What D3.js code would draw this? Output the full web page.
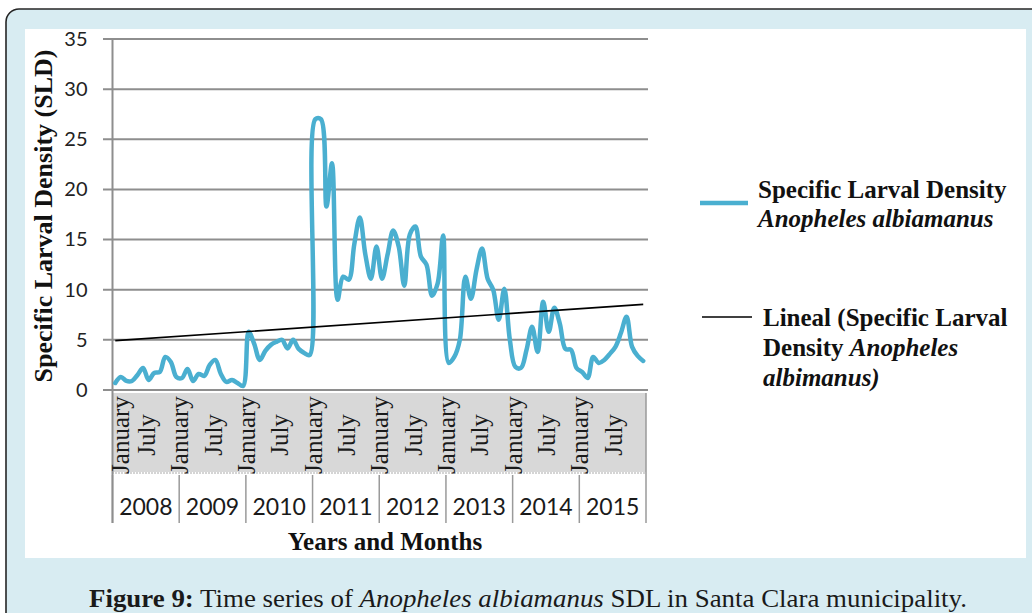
<!DOCTYPE html>
<html>
<head>
<meta charset="utf-8">
<script src="https://cdn.jsdelivr.net/npm/d3@7/dist/d3.min.js"></script>
<style>
  body { margin: 0; background: #ffffff; }
  svg { display: block; }
</style>
</head>
<body>
<svg id="chart" width="1032" height="613"></svg>
<script>
// ---- data -----------------------------------------------------------
const years = ["2008", "2009", "2010", "2011", "2012", "2013", "2014", "2015"];
const monthLabels = ["January", "July"];
const monthLabelOffsets = [0, 6];           // month index within each year
const yTicks = [0, 5, 10, 15, 20, 25, 30, 35];

// Monthly specific larval density, January 2008 .. December 2015
const sld2008 = [0.7, 1.3, 0.9, 0.9, 1.5, 2.2, 1.0, 1.7, 1.8, 3.3, 2.8, 1.3];
const sld2009 = [1.2, 2.1, 0.9, 1.6, 1.4, 2.5, 3.0, 1.6, 0.8, 1.0, 0.7, 0.4];
const sld2010 = [5.8, 4.6, 3.0, 3.9, 4.5, 4.8, 5.0, 4.15, 5.0, 4.1, 3.7, 3.5];
const sld2011 = [27.0, 27.0, 18.3, 22.6, 9.0, 11.3, 11.0, 14.5, 17.2, 13.5, 11.1, 14.3];
const sld2012 = [11.1, 13.5, 15.9, 14.3, 10.4, 15.5, 16.3, 13.3, 12.5, 9.4, 10.6, 15.4];
const sld2013 = [2.7, 3.3, 5.0, 11.3, 9.1, 12.0, 14.1, 11.1, 10.0, 7.0, 10.1, 5.0];
const sld2014 = [2.3, 2.2, 4.0, 6.3, 3.8, 8.8, 5.8, 8.2, 6.6, 4.1, 4.0, 2.2];
const sld2015 = [1.8, 1.2, 3.3, 2.7, 3.0, 3.6, 4.3, 5.7, 7.3, 4.3, 3.4, 2.9];
const sld = [].concat(sld2008, sld2009, sld2010, sld2011, sld2012, sld2013, sld2014, sld2015);

// ---- layout ---------------------------------------------------------
const svg = d3.select("#chart");
const plotLeft = 112.5, plotRight = 646, plotTop = 39, plotBottom = 390;
const blue = "#4aafd0";
const serif = "'Liberation Serif', 'Times New Roman', serif";
const sans = "Lato, 'Open Sans', sans-serif";

// framed panel and white chart area
svg.append("rect").attr("x", 6).attr("y", 9).attr("width", 1050).attr("height", 640)
  .attr("rx", 13).attr("fill", "#d8ecf2").attr("stroke", "#262626").attr("stroke-width", 1.6);
svg.append("rect").attr("x", 25).attr("y", 29).attr("width", 1001).attr("height", 529)
  .attr("fill", "#ffffff");

// ---- scales ---------------------------------------------------------
const x = d3.scaleBand().domain(d3.range(sld.length)).range([plotLeft, plotRight]).padding(0);
const xc = i => x(i) + x.bandwidth() / 2;
const y = d3.scaleLinear().domain([0, 35]).range([plotBottom, plotTop]);

// ---- gridlines + value axis ----------------------------------------
svg.append("g").selectAll("line").data(yTicks).join("line")
  .attr("x1", 103).attr("x2", 648)
  .attr("y1", d => y(d)).attr("y2", d => y(d))
  .attr("stroke", "#8e8e8e").attr("stroke-width", 2);

const yAxis = svg.append("g").attr("transform", `translate(${plotLeft},0)`)
  .call(d3.axisLeft(y).tickValues(yTicks).tickSize(0).tickPadding(25).tickFormat(d3.format("d")));
yAxis.select(".domain").remove();
yAxis.selectAll("text").attr("font-family", sans).attr("font-size", 20).attr("fill", "#222");

// category band below the plot
const bandTop = 393, bandBottom = 472, rowBottom = 523;
svg.append("rect").attr("x", plotLeft).attr("y", bandTop).attr("width", plotRight - plotLeft)
  .attr("height", bandBottom - bandTop).attr("fill", "#d8d8d8");
svg.append("line").attr("x1", plotLeft).attr("x2", plotRight).attr("y1", bandBottom + 1).attr("y2", bandBottom + 1)
  .attr("stroke", "#555").attr("stroke-width", 1).attr("stroke-dasharray", "1,2");

// year dividers
const yearEdges = d3.range(years.length + 1).map(k => k < years.length ? x(k * 12) : plotRight);
svg.append("g").selectAll("line").data(yearEdges).join("line")
  .attr("x1", d => d).attr("x2", d => d)
  .attr("y1", (d, k) => (k === years.length ? bandTop : bandBottom + 3))
  .attr("y2", rowBottom)
  .attr("stroke", "#9a9a9a").attr("stroke-width", 1.5);

// vertical axis line
svg.append("line").attr("x1", plotLeft).attr("x2", plotLeft).attr("y1", plotTop).attr("y2", rowBottom)
  .attr("stroke", "#8e8e8e").attr("stroke-width", 2);

// month labels (rotated)
const monthData = [];
years.forEach((yr, k) => monthLabels.forEach((m, j) => monthData.push({ k, j, label: m, i: k * 12 + monthLabelOffsets[j] })));
svg.append("g").selectAll("text").data(monthData).join("text")
  .attr("transform", d => {
    let bx = x(d.i) + 9;
    bx = Math.max(bx, plotLeft + 16);
    return `translate(${bx},435) rotate(-90)`;
  })
  .attr("text-anchor", "middle")
  .attr("font-family", serif).attr("font-size", 25).attr("fill", "#1a1a1a")
  .text(d => d.label);

// year labels
svg.append("g").selectAll("text").data(years).join("text")
  .attr("x", (d, k) => (yearEdges[k] + yearEdges[k + 1]) / 2)
  .attr("y", 515)
  .attr("text-anchor", "middle")
  .attr("font-family", sans).attr("font-size", 23).attr("fill", "#1a1a1a")
  .text(d => d);

// axis titles
svg.append("text").attr("x", 385).attr("y", 550).attr("text-anchor", "middle")
  .attr("font-family", serif).attr("font-weight", "bold").attr("font-size", 25).attr("fill", "#111")
  .text("Years and Months");
svg.append("text").attr("transform", "translate(52,216) rotate(-90)").attr("text-anchor", "middle")
  .attr("font-family", serif).attr("font-weight", "bold").attr("font-size", 26).attr("fill", "#111")
  .text("Specific Larval Density (SLD)");

// ---- series ---------------------------------------------------------
const line = d3.line().x((d, i) => xc(i)).y(d => y(d)).curve(d3.curveCatmullRom.alpha(0.5));
svg.append("path").datum(sld).attr("d", line)
  .attr("fill", "none").attr("stroke", blue).attr("stroke-width", 4.5)
  .attr("stroke-linejoin", "round").attr("stroke-linecap", "round");

// least-squares linear trend
const n = sld.length;
const mx = d3.mean(d3.range(n)), my = d3.mean(sld);
const slope = d3.sum(sld, (v, i) => (i - mx) * (v - my)) / d3.sum(d3.range(n), i => (i - mx) ** 2);
const intercept = my - slope * mx;
svg.append("line")
  .attr("x1", xc(0)).attr("y1", y(intercept))
  .attr("x2", xc(n - 1)).attr("y2", y(intercept + slope * (n - 1)))
  .attr("stroke", "#000").attr("stroke-width", 1.6);

// ---- legend ---------------------------------------------------------
const lg = svg.append("g").attr("font-family", serif).attr("font-size", 25).attr("font-weight", "bold").attr("fill", "#111");
lg.append("line").attr("x1", 700).attr("x2", 748).attr("y1", 203).attr("y2", 203)
  .attr("stroke", blue).attr("stroke-width", 4.5);
lg.append("text").attr("x", 758).attr("y", 198).text("Specific Larval Density");
lg.append("text").attr("x", 758).attr("y", 227).attr("font-style", "italic").text("Anopheles albiamanus");

lg.append("line").attr("x1", 702).attr("x2", 752).attr("y1", 317).attr("y2", 317)
  .attr("stroke", "#000").attr("stroke-width", 1.6);
lg.append("text").attr("x", 763).attr("y", 326).text("Lineal (Specific Larval");
const l2 = lg.append("text").attr("x", 763).attr("y", 356);
l2.append("tspan").text("Density ");
l2.append("tspan").attr("font-style", "italic").text("Anopheles");
lg.append("text").attr("x", 763).attr("y", 386).attr("font-style", "italic").text("albimanus)");

// ---- caption --------------------------------------------------------
const cap = svg.append("text").attr("x", 89).attr("y", 607)
  .attr("font-family", serif).attr("font-size", 25).attr("fill", "#1a1a1a");
cap.append("tspan").attr("font-weight", "bold").text("Figure 9:");
cap.append("tspan").text(" Time series of ");
cap.append("tspan").attr("font-style", "italic").text("Anopheles albiamanus");
cap.append("tspan").text(" SDL in Santa Clara municipality.");
cap.attr("textLength", 878).attr("lengthAdjust", "spacingAndGlyphs");
</script>
</body>
</html>
